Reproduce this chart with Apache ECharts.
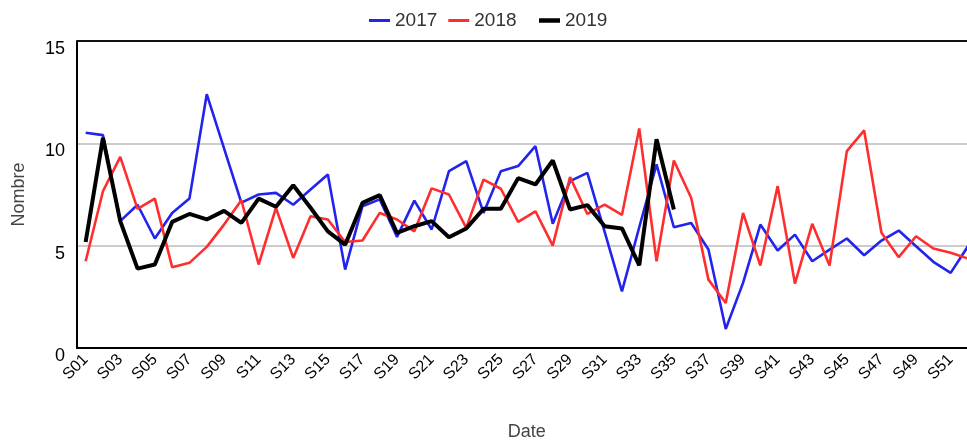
<!DOCTYPE html>
<html>
<head>
<meta charset="utf-8">
<script src="https://cdn.jsdelivr.net/npm/echarts@6/dist/echarts.min.js"></script>
<style>
  html, body { margin: 0; padding: 0; background: #fff; }
  #chart { width: 967px; height: 441px; }
</style>
</head>
<body>
<div id="chart"></div>
<script>
// Weekly counts per year
const weeks = [];
for (let i = 1; i <= 52; i++) weeks.push('S' + String(i).padStart(2, '0'));

const values2017 = [10.52, 10.40, 6.2, 7.0, 5.35, 6.6, 7.3, 12.4, 9.75, 7.1,
  7.5, 7.58, 7.0, 7.74, 8.48, 3.83, 6.93, 7.26, 5.43, 7.2,
  5.79, 8.64, 9.13, 6.6, 8.64, 8.89, 9.86, 6.07, 8.15, 8.56,
  5.67, 2.77, 5.9, 8.97, 5.9, 6.11, 4.81, 0.93, 3.18, 6.03,
  4.76, 5.54, 4.24, 4.81, 5.35, 4.53, 5.25, 5.74, 4.97, 4.21,
  3.67, 4.97];

const values2018 = [4.24, 7.66, 9.34, 6.8, 7.3, 3.95, 4.16, 4.94, 6.03, 7.22,
  4.08, 6.85, 4.4, 6.44, 6.28, 5.18, 5.25, 6.6, 6.28, 5.7,
  7.8, 7.5, 5.87, 8.23, 7.78, 6.16, 6.68, 5.0, 8.35, 6.55,
  7.01, 6.5, 10.73, 4.24, 9.16, 7.34, 3.34, 2.2, 6.6, 4.03,
  7.91, 3.15, 6.07, 4.03, 9.62, 10.63, 5.63, 4.44, 5.46, 4.86,
  4.65, 4.37];

const values2019 = [5.18, 10.27, 6.2, 3.88, 4.08, 6.16, 6.55, 6.28, 6.7, 6.11,
  7.3, 6.9, 7.95, 6.85, 5.7, 5.05, 7.09, 7.47, 5.62, 5.95,
  6.2, 5.41, 5.84, 6.8, 6.8, 8.3, 7.99, 9.16, 6.77, 6.98,
  5.95, 5.84, 4.04, 10.2, 6.77];

const yTicks = [0, 5, 10, 15];

const font = "'Liberation Sans', Arial, sans-serif";
const chart = echarts.init(document.getElementById('chart'));

function lineSeries(name, data, color, width) {
  return {
    name: name,
    type: 'line',
    data: data,
    symbol: 'none',
    showSymbol: false,
    lineStyle: { color: color, width: width },
    itemStyle: { color: color },
    animation: false
  };
}

const legendText = { fontFamily: font, fontSize: 19, color: '#333' };

chart.setOption({
  animation: false,
  legend: [{
    // thin line keys
    top: 6,
    left: 364,
    icon: 'rect',
    itemWidth: 21,
    itemHeight: 3,
    itemGap: 11,
    textStyle: legendText,
    data: ['2017', '2018']
  }, {
    // thick line key
    top: 6,
    left: 534,
    icon: 'rect',
    itemWidth: 21,
    itemHeight: 4.5,
    textStyle: legendText,
    data: ['2019']
  }],
  grid: { left: 77, width: 899.6, top: 41, bottom: 93, containLabel: false, outerBoundsMode: 'none' },
  xAxis: [{
    type: 'category',
    data: weeks,
    boundaryGap: true,
    name: 'Date',
    nameLocation: 'middle',
    nameGap: 75,
    nameTextStyle: { fontFamily: font, fontSize: 18, color: '#444' },
    axisLine: { lineStyle: { color: '#000', width: 2 } },
    axisTick: { alignWithLabel: true, interval: 1, length: 5, lineStyle: { color: '#000', width: 1.5 } },
    axisLabel: { interval: 1, rotate: 45, fontFamily: font, fontSize: 16, color: '#000', margin: 9 },
    splitLine: { show: false }
  }, {
    // inner half of the tick marks, so they cross the axis line
    type: 'category',
    data: weeks,
    boundaryGap: true,
    position: 'bottom',
    axisLine: { show: false },
    axisTick: { alignWithLabel: true, interval: 1, inside: true, length: 4, lineStyle: { color: '#000', width: 1.5 } },
    axisLabel: { show: false },
    splitLine: { show: false }
  }],
  yAxis: {
    type: 'value',
    min: yTicks[0],
    max: yTicks[yTicks.length - 1],
    interval: 5,
    name: 'Nombre',
    nameLocation: 'middle',
    nameGap: 49,
    nameTextStyle: { fontFamily: font, fontSize: 18, color: '#444' },
    axisLine: { show: true, lineStyle: { color: '#000', width: 2 } },
    axisTick: { show: false },
    axisLabel: { fontFamily: font, fontSize: 18, color: '#000', margin: 12, verticalAlign: 'top', padding: [-1, 0, 0, 0] },
    splitLine: { show: true, lineStyle: { color: ['#ccc', '#ccc', '#ccc', '#111'], width: 2 } }
  },
  series: [
    lineSeries('2017', values2017, '#2323ee', 2.6),
    lineSeries('2018', values2018, '#ff2e2e', 2.6),
    lineSeries('2019', values2019, '#000000', 4)
  ]
});
</script>
</body>
</html>
